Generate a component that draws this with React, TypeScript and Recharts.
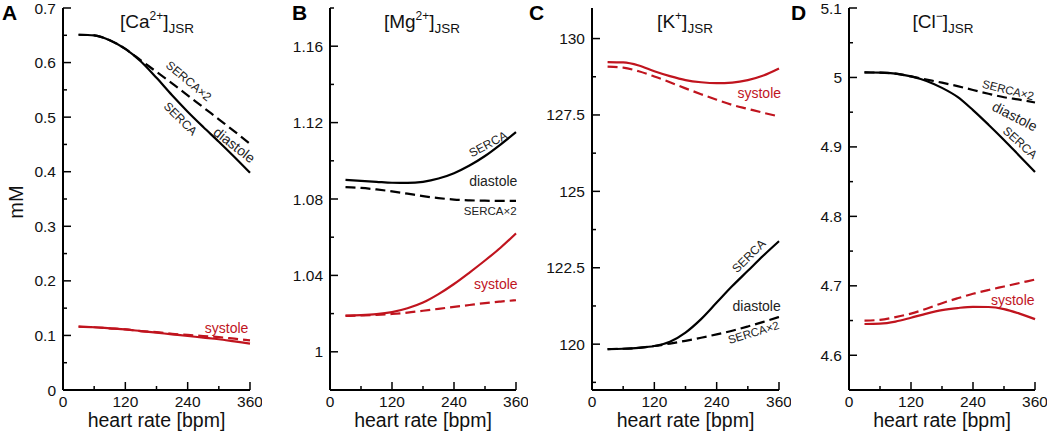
import { LineChart, Line, XAxis, YAxis, ReferenceDot } from "recharts";

const BPM = [30, 60, 90, 120, 150, 180, 210, 240, 270, 300, 330, 360];
const X_TICKS = [0, 60, 120, 180, 240, 300, 360];
const X_LABELS = ["0", "", "120", "", "240", "", "360"];

// A: [Ca2+]JSR
const caDiaSerca = [0.651, 0.65, 0.641, 0.625, 0.602, 0.572, 0.54, 0.51, 0.482, 0.455, 0.427, 0.398];
const caDiaSerca2 = [0.651, 0.65, 0.641, 0.625, 0.604, 0.583, 0.562, 0.54, 0.518, 0.496, 0.474, 0.451];
const caSysSerca = [0.116, 0.115, 0.113, 0.111, 0.108, 0.105, 0.102, 0.099, 0.096, 0.093, 0.089, 0.085];
const caSysSerca2 = [0.116, 0.115, 0.113, 0.111, 0.108, 0.106, 0.103, 0.101, 0.099, 0.097, 0.094, 0.091];
const caTicks = [0, 0.05, 0.1, 0.15, 0.2, 0.25, 0.3, 0.35, 0.4, 0.45, 0.5, 0.55, 0.6, 0.65, 0.7];
const caLabels = ["0", "", "0.1", "", "0.2", "", "0.3", "", "0.4", "", "0.5", "", "0.6", "", "0.7"];

// B: [Mg2+]JSR
const mgDiaSerca = [1.09, 1.0895, 1.089, 1.0885, 1.0884, 1.089, 1.0907, 1.0935, 1.0975, 1.1025, 1.1085, 1.115];
const mgDiaSerca2 = [1.0862, 1.0858, 1.085, 1.084, 1.0828, 1.0815, 1.0805, 1.0797, 1.0793, 1.0791, 1.079, 1.079];
const mgSysSerca = [1.019, 1.0192, 1.0197, 1.0208, 1.0228, 1.0258, 1.0302, 1.0355, 1.0415, 1.0478, 1.0545, 1.062];
const mgSysSerca2 = [1.0188, 1.019, 1.0193, 1.0198, 1.0205, 1.0215, 1.0225, 1.0235, 1.0245, 1.0255, 1.0263, 1.027];
const mgTicks = [0.98, 1, 1.02, 1.04, 1.06, 1.08, 1.1, 1.12, 1.14, 1.16, 1.18];
const mgLabels = ["", "1", "", "1.04", "", "1.08", "", "1.12", "", "1.16", ""];

// C: [K+]JSR
const kDiaSerca = [119.84, 119.85, 119.88, 119.94, 120.08, 120.38, 120.82, 121.36, 121.9, 122.4, 122.9, 123.37];
const kDiaSerca2 = [119.84, 119.85, 119.88, 119.94, 120.02, 120.11, 120.21, 120.32, 120.44, 120.58, 120.73, 120.89];
const kSysSerca = [129.23, 129.22, 129.12, 128.93, 128.77, 128.64, 128.57, 128.54, 128.56, 128.64, 128.79, 129.02];
const kSysSerca2 = [129.08, 129.05, 128.93, 128.76, 128.57, 128.37, 128.18, 128.0, 127.83, 127.7, 127.57, 127.45];
const kTicks = [118.75, 120, 121.25, 122.5, 123.75, 125, 126.25, 127.5, 128.75, 130];
const kLabels = ["", "120", "", "122.5", "", "125", "", "127.5", "", "130"];

// D: [Cl-]JSR
const clDiaSerca = [5.0072, 5.007, 5.0055, 5.0015, 4.995, 4.985, 4.972, 4.953, 4.932, 4.91, 4.887, 4.864];
const clDiaSerca2 = [5.0072, 5.007, 5.0055, 5.0015, 4.997, 4.9925, 4.9875, 4.982, 4.9765, 4.9715, 4.968, 4.964];
const clSysSerca = [4.645, 4.6455, 4.6485, 4.654, 4.66, 4.665, 4.668, 4.6698, 4.6695, 4.6665, 4.66, 4.652];
const clSysSerca2 = [4.65, 4.651, 4.655, 4.66, 4.667, 4.675, 4.682, 4.6885, 4.694, 4.699, 4.704, 4.709];
const clTicks = [4.55, 4.6, 4.65, 4.7, 4.75, 4.8, 4.85, 4.9, 4.95, 5, 5.05, 5.1];
const clLabels = ["", "4.6", "", "4.7", "", "4.8", "", "4.9", "", "5", "", "5.1"];

const RED = "#c0141e";
const INK = "#111";
const FONT = "'Liberation Sans', Arial, Helvetica, sans-serif";

const rows = (dia: number[], dia2: number[], sys: number[], sys2: number[]) =>
    BPM.map((bpm, i) => ({ bpm, dia: dia[i], dia2: dia2[i], sys: sys[i], sys2: sys2[i] }));

interface Note {
    text: string;
    x: number;
    y: number;
    angle?: number;
    size?: number;
    red?: boolean;
}

const NoteLabel = ({ viewBox, note }: { viewBox?: any; note: Note }) => {
    if (!viewBox) return null;
    const cx = viewBox.x + (viewBox.width ?? 0) / 2;
    const cy = viewBox.y + (viewBox.height ?? 0) / 2;
    return (
        <text
            x={cx}
            y={cy}
            textAnchor="middle"
            dominantBaseline="central"
            fontSize={note.size ?? 14}
            fill={note.red ? RED : "#222"}
            transform={note.angle ? `rotate(${note.angle} ${cx} ${cy})` : undefined}
        >
            {note.text}
        </text>
    );
};

const YTick = (props: any) => {
    const { x, y, payload, ticks, labels } = props;
    const lab = labels[ticks.indexOf(payload.value)] ?? "";
    const major = lab !== "";
    return (
        <g>
            <line x1={x} x2={x + (major ? 8 : 4)} y1={y} y2={y} stroke="#000" strokeWidth={1.5} />
            {major && (
                <text x={x - 7} y={y} dy={5.5} textAnchor="end" fontSize={15.5} fill={INK}>
                    {lab}
                </text>
            )}
        </g>
    );
};

const XTick = (props: any) => {
    const { x, y, payload } = props;
    const lab = X_LABELS[X_TICKS.indexOf(payload.value)] ?? "";
    const major = lab !== "";
    return (
        <g>
            <line x1={x} x2={x} y1={y} y2={y - (major ? 8 : 4)} stroke="#000" strokeWidth={1.5} />
            {major && (
                <text x={x} y={y} dy={17} textAnchor="middle" fontSize={15.5} fill={INK}>
                    {lab}
                </text>
            )}
        </g>
    );
};

interface PanelProps {
    left: number;
    width: number;
    marginLeft: number;
    yWidth: number;
    domain: [number, number];
    ticks: number[];
    labels: string[];
    data: ReturnType<typeof rows>;
    notes: Note[];
}

const Panel = ({ left, width, marginLeft, yWidth, domain, ticks, labels, data, notes }: PanelProps) => (
    <div style={{ position: "absolute", left, top: 0 }}>
        <LineChart
            width={width}
            height={434}
            data={data}
            margin={{ top: 8, right: 12, bottom: 0, left: marginLeft }}
        >
            <XAxis
                type="number"
                dataKey="bpm"
                domain={[0, 360]}
                ticks={X_TICKS}
                interval={0}
                height={44}
                tickSize={0}
                tickMargin={0}
                tickLine={false}
                axisLine={{ stroke: "#000", strokeWidth: 2 }}
                tick={<XTick />}
                label={{ value: "heart rate [bpm]", position: "insideBottom", offset: 7, fontSize: 19.5, fill: INK }}
            />
            <YAxis
                type="number"
                domain={domain}
                allowDataOverflow
                ticks={ticks}
                interval={0}
                width={yWidth}
                tickSize={0}
                tickMargin={0}
                tickLine={false}
                axisLine={{ stroke: "#000", strokeWidth: 2 }}
                tick={<YTick ticks={ticks} labels={labels} />}
            />
            <Line type="monotone" dataKey="dia" stroke="#000" strokeWidth={2.2} dot={false} isAnimationActive={false} />
            <Line type="monotone" dataKey="dia2" stroke="#000" strokeWidth={2.2} strokeDasharray="10 5" dot={false} isAnimationActive={false} />
            <Line type="monotone" dataKey="sys" stroke={RED} strokeWidth={2.2} dot={false} isAnimationActive={false} />
            <Line type="monotone" dataKey="sys2" stroke={RED} strokeWidth={2.2} strokeDasharray="10 5" dot={false} isAnimationActive={false} />
            {notes.map((n) => (
                <ReferenceDot
                    key={n.text + n.x}
                    x={n.x}
                    y={n.y}
                    r={0}
                    fill="none"
                    stroke="none"
                    ifOverflow="visible"
                    label={<NoteLabel note={n} />}
                />
            ))}
        </LineChart>
    </div>
);

const caNotes: Note[] = [
    { text: "SERCA×2", x: 242, y: 0.566, angle: 40, size: 12 },
    { text: "SERCA", x: 226, y: 0.497, angle: 45, size: 12 },
    { text: "diastole", x: 330, y: 0.449, angle: 38, size: 14 },
    { text: "systole", x: 315, y: 0.114, size: 14, red: true },
];
const mgNotes: Note[] = [
    { text: "SERCA", x: 306, y: 1.1087, angle: -28, size: 12 },
    { text: "diastole", x: 316, y: 1.0892, size: 14 },
    { text: "SERCA×2", x: 310, y: 1.0736, size: 11.5 },
    { text: "systole", x: 321, y: 1.0355, size: 14, red: true },
];
const kNotes: Note[] = [
    { text: "systole", x: 322, y: 128.22, size: 14, red: true },
    { text: "SERCA", x: 302, y: 122.88, angle: -45, size: 12 },
    { text: "diastole", x: 317, y: 121.26, size: 14 },
    { text: "SERCA×2", x: 311, y: 120.38, angle: -17, size: 11.5 },
];
const clNotes: Note[] = [
    { text: "SERCA×2", x: 308, y: 4.982, angle: 14, size: 11.5 },
    { text: "diastole", x: 321, y: 4.944, angle: 27, size: 14 },
    { text: "SERCA", x: 331, y: 4.906, angle: 42, size: 12 },
    { text: "systole", x: 317, y: 4.68, size: 14, red: true },
];

const Title = ({ cx, ion, charge }: { cx: number; ion: string; charge: string }) => (
    <text x={cx} y={28} textAnchor="middle" fontSize={19} fill={INK}>
        [{ion}
        <tspan fontSize={12} dy={-8}>{charge}</tspan>
        <tspan dy={8}>]</tspan>
        <tspan fontSize={13.5} dy={5}>JSR</tspan>
    </text>
);

export default function App() {
    return (
        <div
            style={{
                position: "absolute",
                left: 0,
                top: 0,
                width: 1050,
                height: 434,
                background: "#fff",
                fontFamily: FONT,
                overflow: "hidden",
            }}
        >
            <Panel left={0} width={262} marginLeft={23} yWidth={40} domain={[0, 0.7]} ticks={caTicks} labels={caLabels}
                data={rows(caDiaSerca, caDiaSerca2, caSysSerca, caSysSerca2)} notes={caNotes} />
            <Panel left={262} width={266} marginLeft={23} yWidth={45} domain={[0.98, 1.18]} ticks={mgTicks} labels={mgLabels}
                data={rows(mgDiaSerca, mgDiaSerca2, mgSysSerca, mgSysSerca2)} notes={mgNotes} />
            <Panel left={527} width={264} marginLeft={20} yWidth={45} domain={[118.5, 131]} ticks={kTicks} labels={kLabels}
                data={rows(kDiaSerca, kDiaSerca2, kSysSerca, kSysSerca2)} notes={kNotes} />
            <Panel left={790} width={257} marginLeft={19} yWidth={40} domain={[4.55, 5.1]} ticks={clTicks} labels={clLabels}
                data={rows(clDiaSerca, clDiaSerca2, clSysSerca, clSysSerca2)} notes={clNotes} />
            <svg width={1050} height={434} style={{ position: "absolute", left: 0, top: 0, pointerEvents: "none" }}>
                <g fontWeight="bold" fontSize={21} fill="#000">
                    <text x={2} y={20}>A</text>
                    <text x={292} y={20}>B</text>
                    <text x={529} y={20}>C</text>
                    <text x={791} y={20}>D</text>
                </g>
                <Title cx={157} ion="Ca" charge="2+" />
                <Title cx={422} ion="Mg" charge="2+" />
                <Title cx={685} ion="K" charge="+" />
                <Title cx={943} ion="Cl" charge="−" />
                <text x={16} y={202} transform="rotate(-90 16 202)" textAnchor="middle" dominantBaseline="central" fontSize={20} fill={INK}>
                    mM
                </text>
            </svg>
        </div>
    );
}
